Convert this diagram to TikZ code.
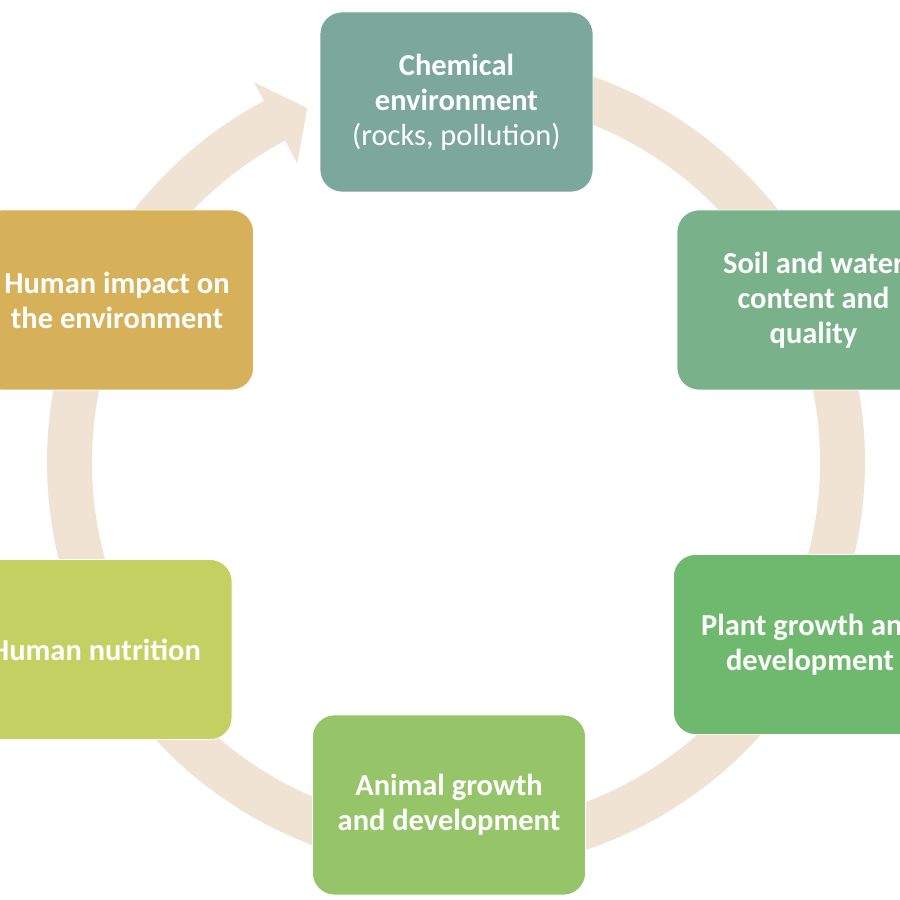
\documentclass[tikz,border=0pt]{standalone}
\usepackage{fontspec}
\setmainfont{Carlito}
\usepackage{xcolor}
\usetikzlibrary{positioning}
\definecolor{ringtan}{RGB}{240,227,211}
\definecolor{chemcol}{RGB}{123,168,154}
\definecolor{soilcol}{RGB}{121,178,138}
\definecolor{plantcol}{RGB}{111,185,110}
\definecolor{animcol}{RGB}{150,196,104}
\definecolor{nutrcol}{RGB}{196,208,98}
\definecolor{impactcol}{RGB}{215,176,90}
\tikzset{
  stage/.style = {
    rectangle, rounded corners=6.6mm,
    draw=white, line width=0.6pt, text=white,
    minimum width=81.9mm, minimum height=54mm,
    inner sep=0pt, align=center,
    font=\fontsize{26}{29.8}\selectfont\bfseries
  },
  ring/.style = {fill=ringtan, draw=none}
}
\begin{document}
\begin{tikzpicture}[x=0.3mm, y=0.3mm]
\useasboundingbox (0,0) rectangle (900,900);

% circular arrow behind the boxes
\begin{scope}[shift={(456,438)}]
  \coordinate (hub) at (0,0);
  \path[ring] (85:409) arc[start angle=85, end angle=-242, radius=409]
    -- (-242:430) -- (-247.2:384) -- (-242:338) -- (-242:364)
    arc[start angle=-242, end angle=85, radius=364] -- cycle;
\end{scope}

\node[stage, fill=chemcol] (chem) at (456.5,798)
      {Chemical\\environment\\{\mdseries (rocks, pollution)}};
\node[stage, fill=soilcol] (soil) at (813.5,600)
      {Soil and water\\content and\\quality};
\node[stage, fill=plantcol] (plant) at (810,255.5)
      {Plant growth and\\development};
\node[stage, fill=animcol] (anim) at (449,95)
      {Animal growth\\and development};
\node[stage, fill=nutrcol] (nutr) at (95.5,250.5)
      {Human nutrition};
\node[stage, fill=impactcol] (impact) at (117,600)
      {Human impact on\\the environment};

\end{tikzpicture}
\end{document}
